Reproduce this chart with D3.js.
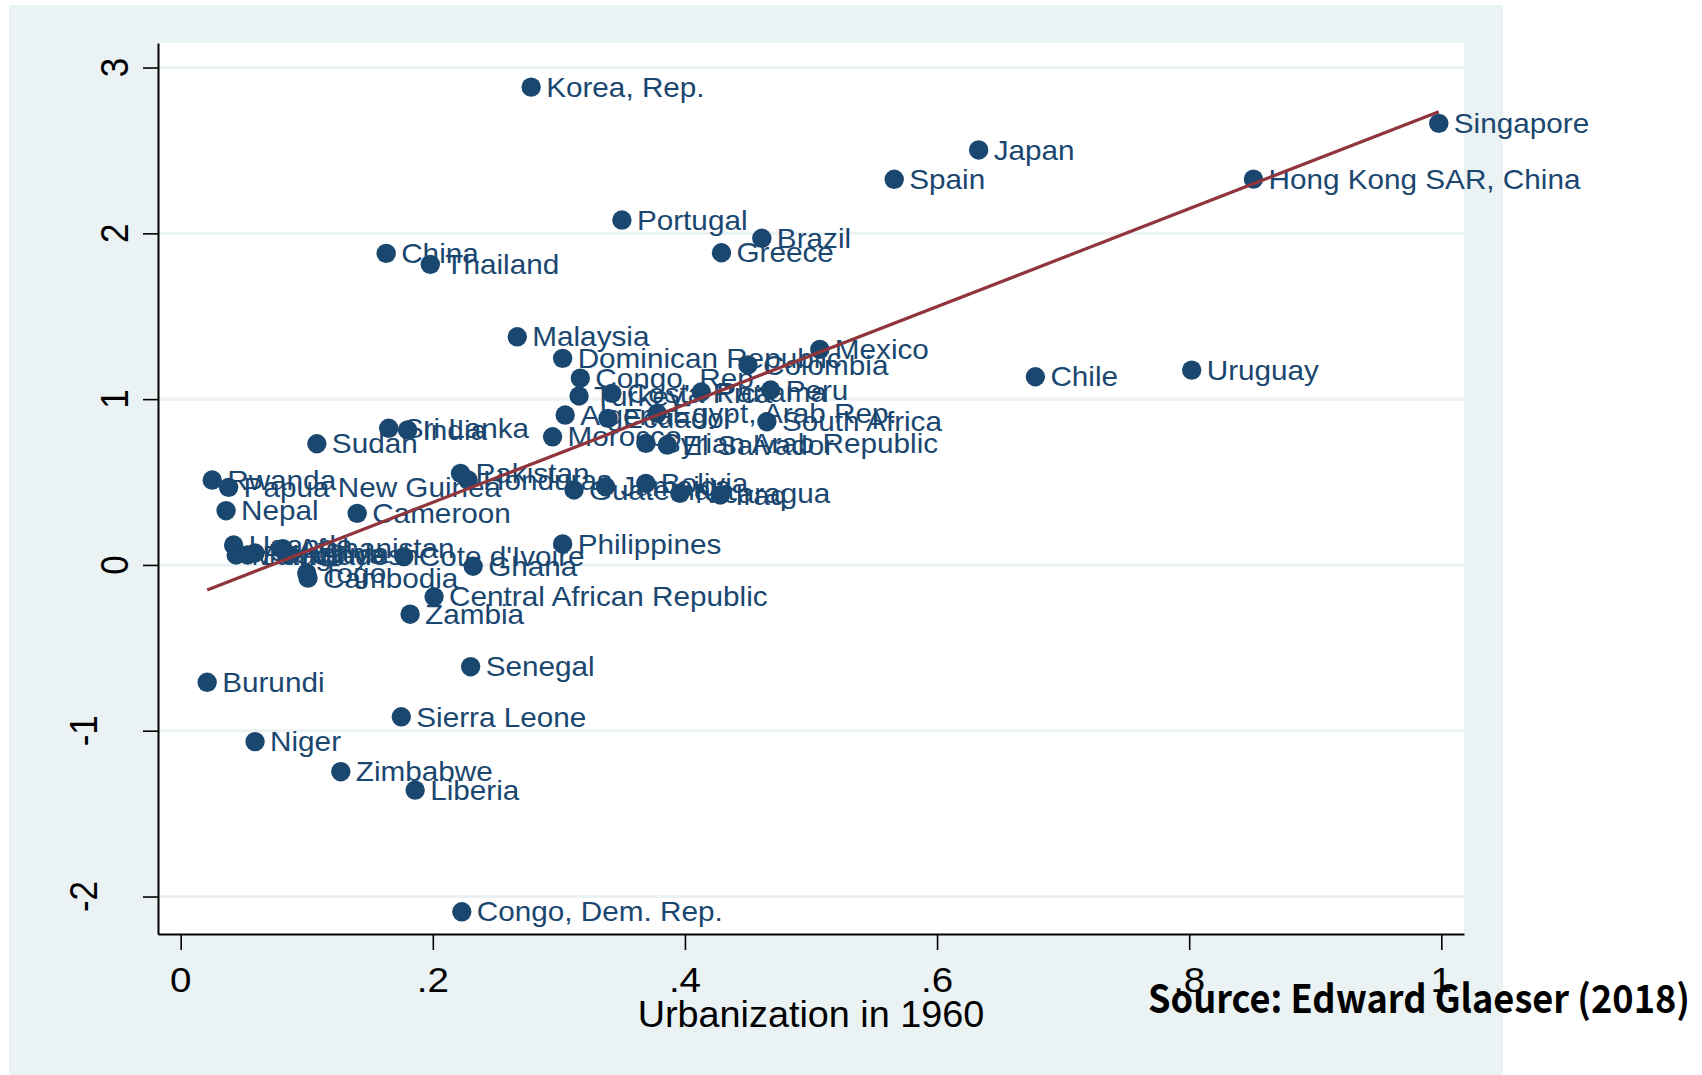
<!DOCTYPE html>
<html>
<head>
<meta charset="utf-8">
<script src="https://cdn.jsdelivr.net/npm/d3@7"></script>
<style>
  html, body { margin: 0; padding: 0; background: #fff; }
  svg { display: block; }
</style>
</head>
<body>
<div id="chart"></div>
<script>
// country labels, urbanization in 1960 (x) and the plotted y value
var countries = ["Korea, Rep.", "Singapore", "Japan", "Spain", "Hong Kong SAR, China",
  "Portugal", "Brazil", "Greece", "China", "Thailand", "Malaysia", "Dominican Republic",
  "Mexico", "Colombia", "Congo, Rep.", "Chile", "Uruguay", "Peru", "Panama", "Costa Rica",
  "Turkey", "Algeria", "Egypt, Arab Rep.", "Ecuador", "South Africa", "Morocco",
  "Syrian Arab Republic", "El Salvador", "Sri Lanka", "India", "Sudan", "Pakistan",
  "Honduras", "Guatemala", "Jamaica", "Bolivia", "Nicaragua", "Iraq", "Rwanda",
  "Papua New Guinea", "Nepal", "Cameroon", "Philippines", "Uganda", "Malawi", "Bangladesh",
  "Tanzania", "Afghanistan", "Kenya", "Cote d'Ivoire", "Ghana", "Togo", "Cambodia",
  "Central African Republic", "Zambia", "Senegal", "Burundi", "Sierra Leone", "Niger",
  "Zimbabwe", "Liberia", "Congo, Dem. Rep."];
var urban1960 = [0.278, 0.998, 0.633, 0.566, 0.851,
  0.350, 0.461, 0.429, 0.163, 0.198, 0.267, 0.303,
  0.507, 0.450, 0.317, 0.678, 0.802, 0.468, 0.413, 0.342,
  0.316, 0.305, 0.378, 0.339, 0.465, 0.295,
  0.369, 0.386, 0.165, 0.180, 0.108, 0.222,
  0.228, 0.312, 0.337, 0.369, 0.396, 0.428, 0.025,
  0.038, 0.036, 0.140, 0.303, 0.042, 0.044, 0.053,
  0.059, 0.081, 0.084, 0.177, 0.232, 0.100, 0.101,
  0.201, 0.182, 0.230, 0.021, 0.175, 0.059,
  0.127, 0.186, 0.223];
var yValue = [2.882, 2.663, 2.503, 2.326, 2.327,
  2.080, 1.970, 1.883, 1.879, 1.813, 1.376, 1.246,
  1.300, 1.206, 1.127, 1.135, 1.175, 1.055, 1.043, 1.035,
  1.019, 0.904, 0.914, 0.884, 0.864, 0.773,
  0.733, 0.723, 0.824, 0.814, 0.731, 0.552,
  0.512, 0.452, 0.472, 0.492, 0.432, 0.422, 0.512,
  0.468, 0.327, 0.311, 0.127, 0.120, 0.060, 0.060,
  0.072, 0.098, 0.066, 0.050, -0.008, -0.049, -0.079,
  -0.192, -0.297, -0.614, -0.708, -0.916, -1.066,
  -1.247, -1.358, -2.092];

var xTicks = [0, 0.2, 0.4, 0.6, 0.8, 1];
var xTickLabels = ["0", ".2", ".4", ".6", ".8", "1"];
var yTicks = [-2, -1, 0, 1, 2, 3];
var yTickLabels = ["-2", "-1", "0", "1", "2", "3"];

// linear fit
var fitIntercept = -0.213;
var fitSlope = 2.952;

var xTitle = "Urbanization in 1960";
var sourceNote = "Source: Edward Glaeser (2018)";

var navy = "#1a476f", maroon = "#90353b", bluishgray = "#eaf2f3";

var dataset = countries.map(function(c, i) {
  return {name: c, x: urban1960[i], y: yValue[i]};
});

var svg = d3.select("#chart").append("svg")
  .attr("width", 1702)
  .attr("height", 1075);

// outer graph region
svg.append("rect")
  .attr("x", 9).attr("y", 5)
  .attr("width", 1494).attr("height", 1070)
  .attr("fill", bluishgray);

var plot = {left: 158, right: 1464, top: 43, bottom: 934};

svg.append("rect")
  .attr("x", plot.left).attr("y", plot.top)
  .attr("width", plot.right - plot.left).attr("height", plot.bottom - plot.top)
  .attr("fill", "#fff");

var x = d3.scaleLinear().domain([-0.018, 1.018]).range([plot.left, plot.right]);
var y = d3.scaleLinear().domain([-2.226, 3.148]).range([plot.bottom, plot.top]);

// grid lines
svg.append("g").selectAll("line")
  .data(yTicks)
  .enter().append("line")
    .attr("x1", plot.left).attr("x2", plot.right)
    .attr("y1", function(d) { return y(d); })
    .attr("y2", function(d) { return y(d); })
    .attr("stroke", bluishgray)
    .attr("stroke-width", 3);

// axes
var yAxis = svg.append("g")
  .attr("transform", "translate(" + plot.left + ",0)")
  .call(d3.axisLeft(y).tickValues(yTicks).tickSize(15).tickSizeOuter(0).tickFormat(""));
var xAxis = svg.append("g")
  .attr("transform", "translate(0," + plot.bottom + ")")
  .call(d3.axisBottom(x).tickValues(xTicks).tickSize(16).tickSizeOuter(0).tickFormat(""));
svg.selectAll(".domain").attr("stroke", "#000").attr("stroke-width", 2);
svg.selectAll(".tick line").attr("stroke", "#000").attr("stroke-width", 1.6);

var labelFont = "'Liberation Sans', Arial, Helvetica, sans-serif";

svg.append("g").selectAll("text")
  .data(yTicks)
  .enter().append("text")
    .attr("transform", function(d) {
      var bx = d < 0 ? 97 : 128;
      return "translate(" + bx + "," + y(d) + ") scale(1.1,1) rotate(-90)";
    })
    .attr("text-anchor", "middle")
    .attr("font-family", labelFont)
    .attr("font-size", 35)
    .attr("fill", "#000")
    .text(function(d, i) { return yTickLabels[i]; });

svg.append("g").selectAll("text")
  .data(xTicks)
  .enter().append("text")
    .attr("transform", function(d) { return "translate(" + x(d) + ",992) scale(1.1,1)"; })
    .attr("text-anchor", "middle")
    .attr("font-family", labelFont)
    .attr("font-size", 35)
    .attr("fill", "#000")
    .text(function(d, i) { return xTickLabels[i]; });

svg.append("text")
  .attr("transform", "translate(" + ((plot.left + plot.right) / 2) + ",1027) scale(1.05,1)")
  .attr("text-anchor", "middle")
  .attr("font-family", labelFont)
  .attr("font-size", 36)
  .attr("fill", "#000")
  .text(xTitle);

// markers
svg.append("g").selectAll("circle")
  .data(dataset)
  .enter().append("circle")
    .attr("cx", function(d) { return x(d.x); })
    .attr("cy", function(d) { return y(d.y); })
    .attr("r", 9.7)
    .attr("fill", navy);

// marker labels at 3 o'clock
svg.append("g").selectAll("text")
  .data(dataset)
  .enter().append("text")
    .attr("transform", function(d) {
      return "translate(" + (x(d.x) + 15) + "," + (y(d.y) + 9.7) + ") scale(1.1,1)";
    })
    .attr("font-family", labelFont)
    .attr("font-size", 27)
    .attr("fill", navy)
    .text(function(d) { return d.name; });

// fitted line
var xr = d3.extent(urban1960);
svg.append("path")
  .datum(xr)
  .attr("d", d3.line()
    .x(function(d) { return x(d); })
    .y(function(d) { return y(fitIntercept + fitSlope * d); }))
  .attr("fill", "none")
  .attr("stroke", maroon)
  .attr("stroke-width", 3.2);

svg.append("text")
  .attr("x", 1148).attr("y", 1013)
  .attr("font-family", "'Noto Sans CJK KR', 'Noto Sans', sans-serif")
  .attr("font-weight", "bold")
  .attr("font-size", 39)
  .attr("textLength", 542)
  .attr("lengthAdjust", "spacingAndGlyphs")
  .attr("fill", "#000")
  .text(sourceNote);
</script>
</body>
</html>
